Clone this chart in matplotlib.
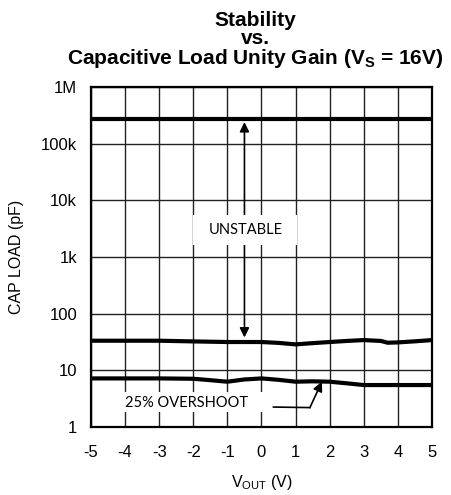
import numpy as np
import matplotlib
matplotlib.use("Agg")
import matplotlib.pyplot as plt
from matplotlib.patches import Rectangle

plt.rcParams['font.family'] = ['Liberation Sans', 'DejaVu Sans']

# curve data
top_x = [-5, 5]
top_y = [270000, 270000]

upper_x = [-5, -4, -3, -2, -1, 0, 0.5, 1, 1.5, 2, 2.5, 3, 3.5, 3.7, 4, 4.5, 5]
upper_y = [33.3, 33.3, 33.3, 32.4, 31.6, 31.6, 30.5, 28.7, 30.2, 31.6, 33, 34.2, 33, 30.7, 31.1, 32.5, 34.2]

lower_x = [-5, -4, -3, -2, -1.5, -1, -0.5, 0, 0.5, 1, 1.5, 2, 2.5, 3, 4, 5]
lower_y = [7.2, 7.2, 7.2, 7.1, 6.7, 6.3, 6.9, 7.2, 6.8, 6.3, 6.4, 6.3, 5.9, 5.5, 5.5, 5.5]

x_ticks = [-5, -4, -3, -2, -1, 0, 1, 2, 3, 4, 5]
y_ticks = [1, 10, 100, 1e3, 1e4, 1e5, 1e6]
y_labels = ['1', '10', '100', '1k', '10k', '100k', '1M']

fig = plt.figure(figsize=(4.52, 4.95), dpi=100)
ax = fig.add_axes([91 / 452, 1 - 427 / 495, 341 / 452, 340 / 495])

ax.set_yscale('log')
ax.set_xlim(-5, 5)
ax.set_ylim(1, 1e6)
ax.set_xticks(x_ticks)
ax.set_xticklabels([str(t) for t in x_ticks])
ax.set_yticks(y_ticks)
ax.set_yticklabels(y_labels)
ax.minorticks_off()
ax.tick_params(axis='x', length=0, labelsize=12, pad=13)
ax.tick_params(axis='y', length=0, labelsize=12, pad=10)
ax.grid(True, color='#222222', linewidth=1.0, zorder=1)
for s in ax.spines.values():
    s.set_linewidth(1.6)

ax.plot(top_x, top_y, color='black', linewidth=3, zorder=4)
ax.plot(upper_x, upper_y, color='black', linewidth=3, zorder=4)
ax.plot(lower_x, lower_y, color='black', linewidth=3, zorder=4)

# double-headed arrow through the unstable region
ax.annotate('', xy=(-0.5, 38), xytext=(-0.5, 240000),
            arrowprops=dict(arrowstyle='<|-|>', color='black', lw=1.2,
                            mutation_scale=14, shrinkA=0, shrinkB=0), zorder=3)

# white boxes under the labels
ax.add_patch(Rectangle((-2.0, 1620), 3.05, 5500 - 1620, facecolor='white',
                       edgecolor='none', zorder=3.5))
ax.text(-0.45, 3000, 'UNSTABLE', ha='center', va='center', fontsize=10.5,
        family=['Lato', 'DejaVu Sans'], zorder=5)

ax.add_patch(Rectangle((-4.6, 1.84), 4.7, 4.14 - 1.84, facecolor='white',
                       edgecolor='none', zorder=3.5))
ax.text(-2.2, 2.6, '25% OVERSHOOT', ha='center', va='center', fontsize=10.5,
        family=['Lato', 'DejaVu Sans'], zorder=5)

ax.plot([0.35, 1.42], [2.25, 2.2], color='black', linewidth=1.2, zorder=5)
ax.annotate('', xy=(1.77, 6.3), xytext=(1.42, 2.2),
            arrowprops=dict(arrowstyle='-|>', color='black', lw=1.2,
                            mutation_scale=14, shrinkA=0, shrinkB=0), zorder=5)

ax.set_ylabel('CAP LOAD (pF)', fontsize=11.5, labelpad=12)
ax.set_xlabel(r'V$_{\mathregular{OUT}}$ (V)', fontsize=11.5, labelpad=9)

fig.text(255 / 452, 1 - 20 / 495, 'Stability', ha='center', va='center',
         fontsize=15, fontweight='bold')
fig.text(255 / 452, 1 - 38 / 495, 'vs.', ha='center', va='center',
         fontsize=15, fontweight='bold')
fig.text(255 / 452, 1 - 59 / 495, r'Capacitive Load Unity Gain (V$_{\mathregular{S}}$ = 16V)',
         ha='center', va='center', fontsize=15, fontweight='bold')

fig.savefig('out.png', dpi=100)
